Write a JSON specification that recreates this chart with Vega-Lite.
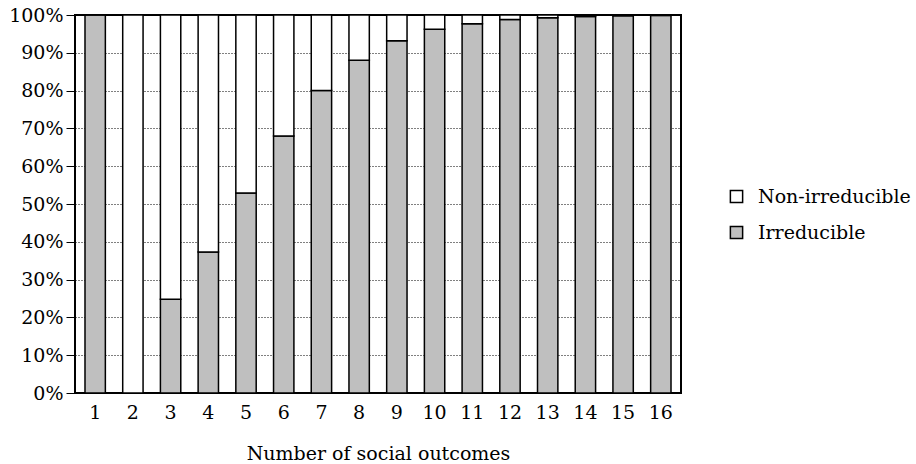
{
  "$schema": "https://vega.github.io/schema/vega-lite/v6.json",
  "width": 606,
  "height": 378,
  "autosize": {"type": "none"},
  "padding": {"left": 75, "top": 15, "right": 235, "bottom": 71},
  "background": "white",
  "config": {
    "font": "DejaVu Serif",
    "view": {"stroke": "black", "strokeWidth": 2},
    "axis": {"labelFont": "DejaVu Serif", "titleFont": "DejaVu Serif", "labelColor": "black", "titleColor": "black"}
  },
  "data": {
    "values": [
      {"n": 1, "type": "Irreducible", "share": 1.0},
      {"n": 1, "type": "Non-irreducible", "share": 0.0},
      {"n": 2, "type": "Irreducible", "share": 0.0},
      {"n": 2, "type": "Non-irreducible", "share": 1.0},
      {"n": 3, "type": "Irreducible", "share": 0.248},
      {"n": 3, "type": "Non-irreducible", "share": 0.752},
      {"n": 4, "type": "Irreducible", "share": 0.373},
      {"n": 4, "type": "Non-irreducible", "share": 0.627},
      {"n": 5, "type": "Irreducible", "share": 0.529},
      {"n": 5, "type": "Non-irreducible", "share": 0.471},
      {"n": 6, "type": "Irreducible", "share": 0.68},
      {"n": 6, "type": "Non-irreducible", "share": 0.32},
      {"n": 7, "type": "Irreducible", "share": 0.8},
      {"n": 7, "type": "Non-irreducible", "share": 0.2},
      {"n": 8, "type": "Irreducible", "share": 0.88},
      {"n": 8, "type": "Non-irreducible", "share": 0.12},
      {"n": 9, "type": "Irreducible", "share": 0.932},
      {"n": 9, "type": "Non-irreducible", "share": 0.068},
      {"n": 10, "type": "Irreducible", "share": 0.962},
      {"n": 10, "type": "Non-irreducible", "share": 0.038},
      {"n": 11, "type": "Irreducible", "share": 0.977},
      {"n": 11, "type": "Non-irreducible", "share": 0.023},
      {"n": 12, "type": "Irreducible", "share": 0.988},
      {"n": 12, "type": "Non-irreducible", "share": 0.012},
      {"n": 13, "type": "Irreducible", "share": 0.993},
      {"n": 13, "type": "Non-irreducible", "share": 0.007},
      {"n": 14, "type": "Irreducible", "share": 0.996},
      {"n": 14, "type": "Non-irreducible", "share": 0.004},
      {"n": 15, "type": "Irreducible", "share": 0.998},
      {"n": 15, "type": "Non-irreducible", "share": 0.002},
      {"n": 16, "type": "Irreducible", "share": 0.999},
      {"n": 16, "type": "Non-irreducible", "share": 0.001}
    ]
  },
  "mark": {"type": "bar", "stroke": "black", "strokeWidth": 1.5},
  "encoding": {
    "x": {
      "field": "n",
      "type": "ordinal",
      "scale": {"paddingInner": 0.46, "paddingOuter": 0.265},
      "axis": {
        "title": "Number of social outcomes",
        "labelAngle": 0,
        "ticks": false,
        "domain": false,
        "labelFontSize": 19,
        "labelPadding": 10,
        "titleFontSize": 19,
        "titleFontWeight": "normal",
        "titlePadding": 22
      }
    },
    "y": {
      "field": "share",
      "type": "quantitative",
      "stack": "zero",
      "scale": {"domain": [0, 1], "nice": false},
      "axis": {
        "title": null,
        "format": ".0%",
        "values": [0, 0.1, 0.2, 0.3, 0.4, 0.5, 0.6, 0.7, 0.8, 0.9, 1.0],
        "domain": false,
        "tickSize": 9,
        "tickColor": "black",
        "tickWidth": 1,
        "labelFontSize": 19,
        "labelPadding": 3,
        "grid": true,
        "gridColor": "black",
        "gridDash": [1, 2],
        "gridWidth": 1,
        "gridOpacity": 1
      }
    },
    "color": {
      "field": "type",
      "type": "nominal",
      "scale": {"domain": ["Non-irreducible", "Irreducible"], "range": ["white", "#bfbfbf"]},
      "legend": {
        "title": null,
        "orient": "none",
        "legendX": 652,
        "legendY": 172,
        "symbolType": "square",
        "symbolSize": 150,
        "symbolStrokeColor": "black",
        "symbolStrokeWidth": 1.5,
        "labelFontSize": 19,
        "labelFont": "DejaVu Serif",
        "labelColor": "black",
        "labelOffset": 12,
        "rowPadding": 16
      }
    },
    "order": {"field": "type", "sort": "ascending"}
  }
}
